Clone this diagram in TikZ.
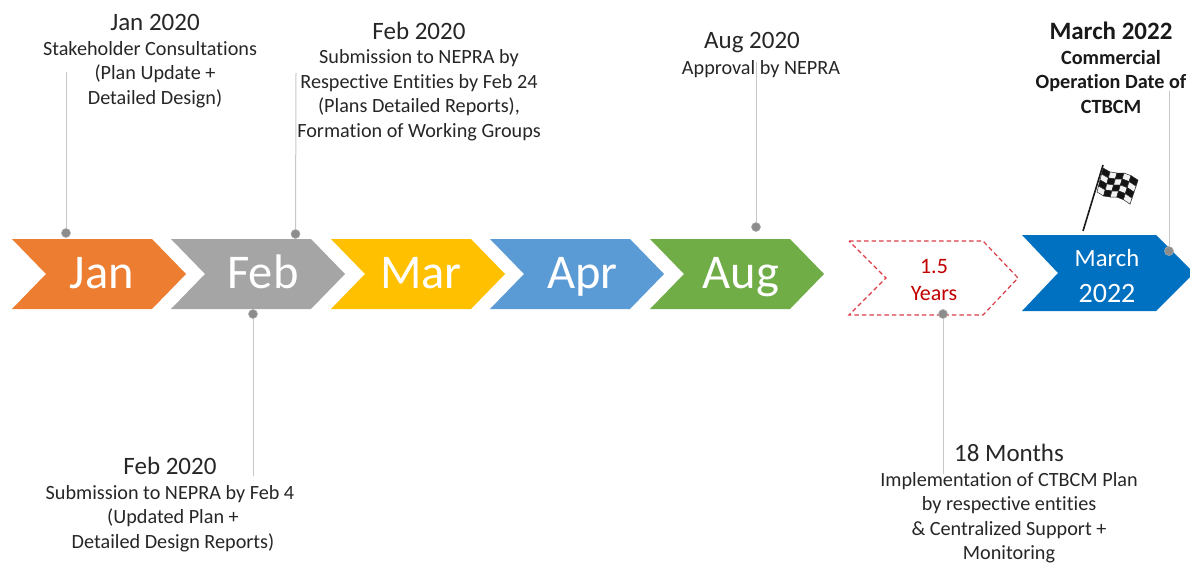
\documentclass[tikz,border=0pt]{standalone}
\usepackage{fontspec}
\setmainfont[Ligatures=NoCommon]{Carlito}
\definecolor{cOrange}{HTML}{ED7D31}
\definecolor{cGray}{HTML}{A5A5A5}
\definecolor{cYellow}{HTML}{FFC000}
\definecolor{cBlue}{HTML}{5B9BD5}
\definecolor{cGreen}{HTML}{70AD47}
\definecolor{cDeep}{HTML}{0070C0}
\definecolor{cRed}{HTML}{C00000}
\definecolor{cDash}{HTML}{DC3C46}
\definecolor{cInk}{HTML}{262626}
\newcommand{\hd}[1]{{\fontsize{25}{25}\selectfont #1}}
\newcommand{\fx}[2]{1103+35*#1-6*#2-2*#1*#2}
\newcommand{\fy}[2]{168+11*#1+24*#2+1.8*sin(#1*400)}
\begin{document}
\begin{tikzpicture}[x=1pt,y=-1pt,
  month/.style={text=white,font=\fontsize{48.5}{50}\selectfont,anchor=base,inner sep=0pt},
  note/.style={text=cInk,align=center,anchor=north,inner sep=0pt,font=\fontsize{20.2}{24.6}\selectfont},
  leader/.style={draw=black!22,line width=1pt},
  pin/.style={circle,fill=black!45,draw=black!32,line width=.6pt,minimum size=9pt,inner sep=0pt},
  chev/.style={line width=.4pt}]
\useasboundingbox (0,0) rectangle (1190,564);
% chevrons
\foreach \xx/\cc in {12/cOrange,171/cGray,331/cYellow,490/cBlue,650/cGreen}{
  \fill[fill=\cc,chev] (\xx,239) -- ++(140,0) -- ++(34,35) -- ++(-34,35) -- ++(-140,0) -- ++(34,-35) -- cycle;
}
\draw[cDash,line width=1.2pt,dash pattern=on 4.5pt off 3pt]
  (849,241) -- (983,241) -- (1018,278) -- (983,315) -- (849,315) -- (886,278) -- cycle;
\fill[cDeep] (1022,235) -- (1156,235) -- (1194,273) -- (1156,311) -- (1022,311) -- (1058,273) -- cycle;
% chevron labels
\node[month] (jan) at (102,288) {Jan};
\node[month] (feb) at (263,288) {Feb};
\node[month] (mar) at (421,288) {Mar};
\node[month] (apr) at (582.5,288) {Apr};
\node[month] (aug) at (741,288) {Aug};
\node[anchor=base,inner sep=0pt,text=cRed,font=\fontsize{22}{27}\selectfont,align=center] (yrs) at (934,300) {1.5\\Years};
\node[anchor=base,inner sep=0pt,text=white,font=\fontsize{24.7}{25}\selectfont] (mar22a) at (1107,266) {March};
\node[anchor=base,inner sep=0pt,text=white,font=\fontsize{28}{28}\selectfont] (mar22b) at (1107,302) {2022};
% pins
\node[pin] (p1) at (66,233) {};
\node[pin] (p2) at (295.5,234) {};
\node[pin] (p3) at (253,314) {};
\node[pin] (p4) at (756,227) {};
\node[pin] (p5) at (943,314) {};
\node[pin] (p6) at (1169,251) {};
% leader ends
\coordinate (e1) at (66,72);
\coordinate (e2) at (296,73);
\coordinate (e3) at (253,476);
\coordinate (e4) at (756,62);
\coordinate (e5) at (943,474);
\coordinate (e6) at (1169,91);
\draw[leader] (e1) -- (p1);
\draw[leader] (e2) -- (p2);
\draw[leader] (e3) -- (p3);
\draw[leader] (e4) -- (p4);
\draw[leader] (e5) -- (p5);
\draw[leader] (e6) -- (p6);
% notes
\node[note] (n1) at (150,14) {\hd{\hspace*{10pt}Jan 2020}\\Stakeholder Consultations\\\hspace*{10pt}(Plan Update +\\\hspace*{10pt}Detailed Design)};
\node[note] (n2) at (419,21.5) {\hd{Feb 2020}\\Submission to NEPRA by\\Respective Entities by Feb 24\\(Plans Detailed Reports),\\Formation of Working Groups};
\node[note] (n3) at (170,457) {\hd{Feb 2020}\\Submission to NEPRA by Feb 4\\\hspace*{6pt}(Updated Plan +\\\hspace*{6pt}Detailed Design Reports)};
\node[note] (n4) at (761,32) {\hd{Aug 2020}\hspace*{18pt}\\[1.5pt]Approval by NEPRA};
\node[note] (n5) at (1009,444) {\hd{18 Months}\\Implementation of CTBCM Plan\\by respective entities\\\& Centralized Support +\\Monitoring};
\node[note,font=\fontsize{20.2}{24.6}\selectfont\bfseries,text=black!90] (n6) at (1111,22) {\hd{March 2022}\\Commercial\\Operation Date of\\CTBCM};
% flag
\draw[line width=1.6pt,black!90] (1083,231) -- (1103,165);
\foreach \i in {0,...,4}{
  \foreach \j in {0,...,3}{
    \pgfmathtruncatemacro{\prty}{mod(\i+\j,2)}
    \pgfmathsetmacro{\ua}{\i/5}\pgfmathsetmacro{\ub}{(\i+1)/5}
    \pgfmathsetmacro{\va}{\j/4}\pgfmathsetmacro{\vb}{(\j+1)/4}
    \pgfmathsetmacro{\col}{\prty==0?92:5}
    \fill[black!\col] ({\fx{\ua}{\va}},{\fy{\ua}{\va}}) -- ({\fx{\ub}{\va}},{\fy{\ub}{\va}}) -- ({\fx{\ub}{\vb}},{\fy{\ub}{\vb}}) -- ({\fx{\ua}{\vb}},{\fy{\ua}{\vb}}) -- cycle;
    \draw[black!85,line width=.5pt] ({\fx{\ua}{\va}},{\fy{\ua}{\va}}) -- ({\fx{\ub}{\va}},{\fy{\ub}{\va}}) -- ({\fx{\ub}{\vb}},{\fy{\ub}{\vb}}) -- ({\fx{\ua}{\vb}},{\fy{\ua}{\vb}}) -- cycle;
  }
}
\end{tikzpicture}
\end{document}
